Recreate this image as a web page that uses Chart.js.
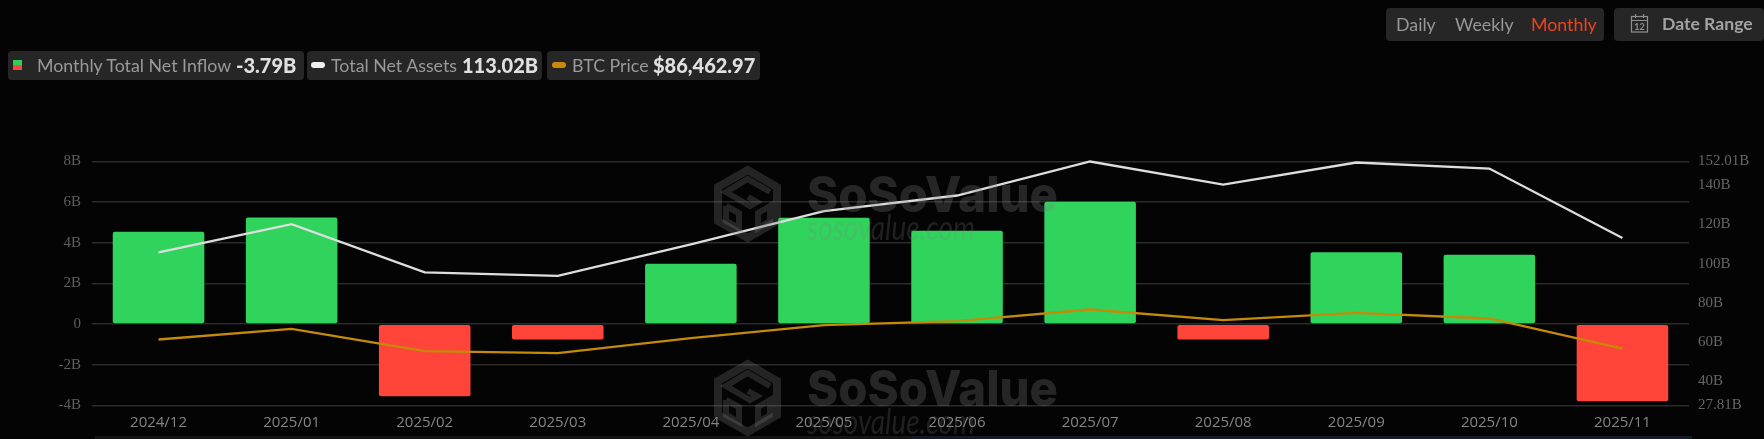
<!DOCTYPE html>
<html>
<head>
<meta charset="utf-8">
<script src="https://cdn.jsdelivr.net/npm/chart.js@4"></script>
<style>
html,body{margin:0;padding:0;background:#040404;width:1764px;height:439px;overflow:hidden;font-family:Lato,sans-serif}
#wrap{position:absolute;left:0;top:0;width:1764px;height:439px}
canvas{position:absolute;left:0;top:0}
.box{position:absolute;background:#262626;border-radius:4px}
.t{position:absolute;white-space:nowrap;font-size:17.8px;line-height:20px;color:#9a9a9a}
.v{position:absolute;white-space:nowrap;font-size:20px;line-height:20px;color:#e0e0e0;font-weight:900}
.s{position:absolute}
#wm{position:absolute;left:0;top:0;pointer-events:none}
</style>
</head>
<body>
<div id="wrap">
<canvas id="c" width="1764" height="439"></canvas>
<svg id="wm" width="1764" height="439">
<defs><g id="mark">
<path d="M747.7 170 L777 187 L777 221 L747.7 238 L718 221 L718 187 Z" fill="none" stroke="rgba(130,130,130,.26)" stroke-width="8"/>
<path d="M770 192 L747.7 179 L726 192 L750 206 L757 202 L748 197 M726 206 L726 221 L739 228 L739 213 L726 206 M758 213 L758 228 L770 221 L770 206 Z" fill="none" stroke="rgba(130,130,130,.26)" stroke-width="6"/>
<text x="807" y="212" font-family="Inter" font-weight="800" font-size="49" textLength="251" lengthAdjust="spacingAndGlyphs" fill="rgba(130,130,130,.28)">SoSoValue</text>
<text x="807" y="240" font-family="Lato" font-style="italic" font-size="34" textLength="168" lengthAdjust="spacingAndGlyphs" fill="rgba(130,130,130,.22)">sosovalue.com</text>
</g></defs>
<use href="#mark"/>
<use href="#mark" y="194"/>
</svg>

<div class="box" style="left:8px;top:51px;width:296px;height:29px"></div>
<div class="box" style="left:307px;top:51px;width:235px;height:29px"></div>
<div class="box" style="left:547px;top:51px;width:213px;height:29px"></div>
<div class="s" style="left:13px;top:60px;width:9px;height:5px;background:#30d158"></div>
<div class="s" style="left:13px;top:65px;width:9px;height:5px;background:#ff453a"></div>
<div class="s" style="left:311px;top:62px;width:14px;height:6px;border-radius:3px;background:#eeeeee"></div>
<div class="s" style="left:552px;top:62px;width:14px;height:6px;border-radius:3px;background:#c98a0c"></div>
<div class="t" style="left:37px;top:55px">Monthly Total Net Inflow</div>
<div class="v" style="left:236px;top:55px">-3.79B</div>
<div class="t" style="left:331px;top:55px">Total Net Assets</div>
<div class="v" style="left:462px;top:55px">113.02B</div>
<div class="t" style="left:572px;top:55px">BTC Price</div>
<div class="v" style="left:653px;top:55px">$86,462.97</div>

<div class="box" style="left:1386px;top:8px;width:218px;height:33px"></div>
<div class="box" style="left:1614px;top:8px;width:150px;height:33px"></div>
<div class="t" style="left:1396px;top:14px;color:#979797">Daily</div>
<div class="t" style="left:1455px;top:14px;color:#979797">Weekly</div>
<div class="t" style="left:1531px;top:14px;color:#f0421f">Monthly</div>
<svg class="s" style="left:1630px;top:13px" width="20" height="22">
<rect x="1.5" y="3.5" width="16" height="15.5" fill="none" stroke="#8f8f8f" stroke-width="1.2"/>
<path d="M1.5 7.5H17.5M5.5 1V5M13.5 1V5" stroke="#8f8f8f" stroke-width="1.2" fill="none"/>
<text x="9.5" y="17" text-anchor="middle" font-family="Lato" font-size="9" font-weight="700" fill="#8f8f8f">12</text>
</svg>
<div class="t" style="left:1662px;top:14px;font-weight:700;color:#a3a3a3;font-size:17.6px">Date Range</div>

<div class="s" style="left:95px;top:436px;width:817px;height:3px;background:#151515"></div>
<div class="s" style="left:912px;top:436px;width:780px;height:3px;background:#121b2a"></div>
</div>

<script>
const categories = ["2024/12","2025/01","2025/02","2025/03","2025/04","2025/05","2025/06","2025/07","2025/08","2025/09","2025/10","2025/11"];
const netInflow = [4.54,5.25,-3.54,-0.75,2.97,5.23,4.6,6.02,-0.75,3.54,3.41,-3.79];
const netAssets = [105.8,120.1,95.6,93.8,109.8,126.7,134.7,152.01,140.2,151.5,148.4,113.02];
const btcPrice = [93230,101260,84440,83000,94280,103970,106970,115760,107800,113280,109000,86463];
const rightTicks = [27.81,40,60,80,100,120,140,152.01];

new Chart(document.getElementById('c'), {
  type: 'bar',
  data: {
    labels: categories,
    datasets: [
      {type:'line',label:'Total Net Assets',data:netAssets,yAxisID:'yAssets',borderColor:'#dedede',borderWidth:2.3,pointRadius:0,tension:0,order:1,clip:false},
      {type:'line',label:'BTC Price',data:btcPrice,yAxisID:'yBtc',borderColor:'#c48a08',borderWidth:2.3,pointRadius:0,tension:0,order:2,clip:false},
      {type:'bar',label:'Monthly Total Net Inflow',data:netInflow,yAxisID:'yFlow',
       backgroundColor:ctx=>ctx.raw>=0?'#30d35b':'#ff453a',borderRadius:2,borderSkipped:false,
       barPercentage:0.688,categoryPercentage:1,order:3}
    ]
  },
  options: {
    responsive:false,animation:false,
    layout:{padding:{top:161.5,bottom:0,left:0,right:0}},
    plugins:{legend:{display:false},tooltip:{enabled:false},title:{display:false}},
    scales:{
      x:{
        grid:{display:false},border:{display:false},
        ticks:{color:'#858585',font:{family:'Open Sans',size:15},padding:0,maxRotation:0,autoSkip:false},
        afterFit(s){s.height=33.5;}
      },
      yFlow:{
        position:'left',min:-4,max:8,
        grid:{color:'#2b2b2b',lineWidth:1.6,drawTicks:false},border:{display:false},
        ticks:{stepSize:2,color:'#5e5e5e',font:{family:'Liberation Serif',size:15},padding:11,labelOffset:0,
          callback:v=>v===0?'0':v+'B'},
        afterFit(s){s.width=92;}
      },
      yAssets:{
        position:'right',min:27.81,max:152.01,
        grid:{display:false},border:{display:false},
        afterBuildTicks(s){s.ticks=rightTicks.map(v=>({value:v}));},
        ticks:{color:'#666666',font:{family:'Liberation Serif',size:15},padding:1,labelOffset:0,
          callback:v=>v+'B'},
        afterFit(s){s.width=75;}
      },
      yBtc:{
        display:false,position:'right',min:43660,max:226900
      }
    }
  }
});
</script>
</body>
</html>
